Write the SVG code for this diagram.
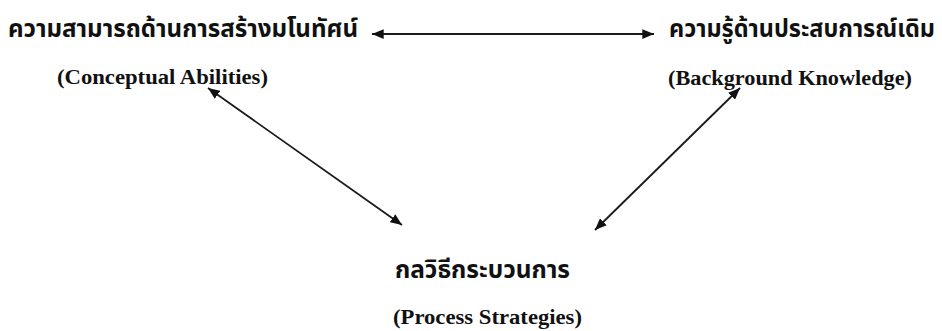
<svg xmlns="http://www.w3.org/2000/svg" width="942" height="331" viewBox="0 0 942 331">
<defs>
<marker id="ah" viewBox="0 0 12 10" refX="12" refY="5" markerWidth="6.5" markerHeight="5.5" orient="auto-start-reverse" markerUnits="strokeWidth">
<path d="M0,0 L12,5 L0,10 z" fill="#111"/>
</marker>
<style>
.th{font-family:"Noto Sans Thai","Noto Sans","DejaVu Sans",sans-serif;font-weight:bold;font-size:24px;fill:#111}
.en{font-family:"Liberation Serif","Times New Roman",serif;font-weight:bold;font-size:20px;fill:#111}
.cn{stroke:#1a1a1a;stroke-width:1.8;fill:none;marker-start:url(#ah);marker-end:url(#ah)}
</style>
</defs>
<rect width="942" height="331" fill="#fff"/>
<g id="conceptual">
<text class="th" x="8" y="37" textLength="350" lengthAdjust="spacingAndGlyphs">ความสามารถด้านการสร้างมโนทัศน์</text>
<text class="en" x="57" y="84" textLength="211" lengthAdjust="spacingAndGlyphs">(Conceptual Abilities)</text>
</g>
<g id="background">
<text class="th" x="669" y="37" textLength="266" lengthAdjust="spacingAndGlyphs">ความรู้ด้านประสบการณ์เดิม</text>
<text class="en" x="668" y="85" textLength="244" lengthAdjust="spacingAndGlyphs">(Background Knowledge)</text>
</g>
<g id="process">
<text class="th" x="395" y="278" textLength="175" lengthAdjust="spacingAndGlyphs">กลวิธีกระบวนการ</text>
<text class="en" x="393" y="324" textLength="189" lengthAdjust="spacingAndGlyphs">(Process Strategies)</text>
</g>
<g id="connectors">
<line class="cn" x1="372" y1="34" x2="654" y2="34"/>
<line class="cn" x1="208" y1="88" x2="402" y2="225"/>
<line class="cn" x1="740" y1="88" x2="595" y2="230"/>
</g>
</svg>
